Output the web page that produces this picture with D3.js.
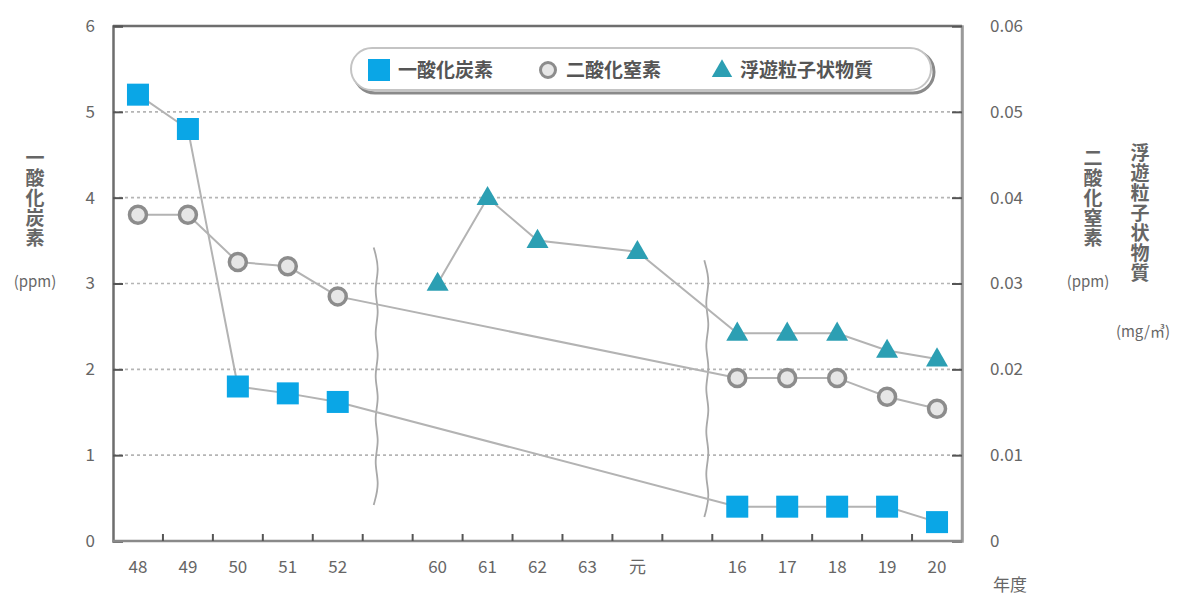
<!DOCTYPE html>
<html><head><meta charset="utf-8">
<script src="https://cdn.jsdelivr.net/npm/d3@7/dist/d3.min.js"></script>
<style>
body{margin:0;background:#fff;}
text{font-family:"Noto Sans CJK JP","Noto Sans",sans-serif;}
.vt{writing-mode:vertical-rl;text-orientation:upright;}
</style></head>
<body><svg id="c" width="1181" height="597"></svg>
<script>
// ---- data ----
const categories = ["48","49","50","51","52","gap1","60","61","62","63","元","gap2","16","17","18","19","20"];
const tickLabels = ["48","49","50","51","52","","60","61","62","63","元","","16","17","18","19","20"];
const coYears = ["48","49","50","51","52","16","17","18","19","20"];
const coValues = [5.2,4.8,1.8,1.72,1.62,0.4,0.4,0.4,0.4,0.22];           // ppm (left)
const no2Years = ["48","49","50","51","52","16","17","18","19","20"];
const no2Values = [0.038,0.038,0.0325,0.032,0.0285,0.019,0.019,0.019,0.0168,0.0154]; // ppm (right)
const spmYears = ["60","61","62","元","16","17","18","19","20"];
const spmValues = [0.030,0.040,0.035,0.0337,0.0242,0.0242,0.0242,0.0222,0.0212]; // mg/m3 (right)
const leftTicks = [0,1,2,3,4,5,6];
const rightTicks = [0,0.01,0.02,0.03,0.04,0.05,0.06];
const rightTickLabels = ["0","0.01","0.02","0.03","0.04","0.05","0.06"];
const legendNames = ["一酸化炭素","二酸化窒素","浮遊粒子状物質"];

// ---- layout ----
const svg = d3.select("#c");
const L = 113, R = 962, T = 26, B = 541;
const x = d3.scaleBand().domain(categories).range([L, R]).padding(0);
const yL = d3.scaleLinear().domain([0,6]).range([B,T]);
const yR = d3.scaleLinear().domain([0,0.06]).range([B,T]);
const cx = c => x(c) + x.bandwidth()/2;
const bw = x.bandwidth();
const txtCol = "#666";

// grid lines
svg.append("g").selectAll("line").data(leftTicks.filter(d=>d>0&&d<6)).join("line")
  .attr("x1",L).attr("x2",R).attr("y1",d=>yL(d)).attr("y2",d=>yL(d))
  .attr("stroke","#b5b5b5").attr("stroke-width",1.6).attr("stroke-dasharray","3,3");

// frame
svg.append("line").attr("x1",L).attr("x2",R).attr("y1",T).attr("y2",T).attr("stroke","#6e6e6e").attr("stroke-width",2.5);
svg.append("line").attr("x1",R).attr("x2",R).attr("y1",T).attr("y2",B).attr("stroke","#9a9a9a").attr("stroke-width",2.5);

// left axis
const gL = svg.append("g").attr("transform",`translate(${L},0)`)
  .call(d3.axisRight(yL).tickValues(leftTicks).tickSize(10).tickFormat(""));
gL.select(".domain").attr("stroke","#6e6e6e").attr("stroke-width",2.5);
gL.selectAll(".tick line").attr("stroke","#555").attr("stroke-width",2);
svg.append("g").selectAll("text").data(leftTicks).join("text")
  .attr("x",95).attr("y",d=>yL(d)).attr("dy","0.35em").attr("text-anchor","end")
  .attr("font-size",17).attr("fill",txtCol).text(d=>d);

// right axis
const gR = svg.append("g").attr("transform",`translate(${R},0)`)
  .call(d3.axisLeft(yR).tickValues(rightTicks).tickSize(10).tickFormat(""));
gR.select(".domain").attr("stroke","#9a9a9a").attr("stroke-width",2.5);
gR.selectAll(".tick line").attr("stroke","#555").attr("stroke-width",2);
svg.append("g").selectAll("text").data(rightTicks).join("text")
  .attr("x",990).attr("y",d=>yR(d)).attr("dy","0.35em").attr("text-anchor","start")
  .attr("font-size",17).attr("fill",txtCol).text((d,i)=>rightTickLabels[i]);

// bottom axis: ticks at boundaries between categories
const boundaries = categories.slice(1).map(c=>x(c));
svg.append("line").attr("x1",L).attr("x2",R).attr("y1",B).attr("y2",B).attr("stroke","#8a8a8a").attr("stroke-width",2.5);
svg.append("g").selectAll("line").data(boundaries).join("line")
  .attr("x1",d=>d).attr("x2",d=>d).attr("y1",B).attr("y2",B-7).attr("stroke","#555").attr("stroke-width",2);
svg.append("g").selectAll("text").data(categories).join("text")
  .attr("x",d=>cx(d)).attr("y",573).attr("text-anchor","middle")
  .attr("font-size",17).attr("fill",txtCol).text((d,i)=>tickLabels[i]);
svg.append("text").attr("x",993).attr("y",591).attr("font-size",17).attr("fill",txtCol).text("年度");

// axis titles (vertical)
function vtitle(str, xx, y0){
  svg.append("text").attr("class","vt").attr("x",xx).attr("y",y0)
    .attr("font-size",19).attr("font-weight","bold").attr("fill","#666")
    .attr("letter-spacing",1).text(str);
}
vtitle("一酸化炭素", 35, 148);
svg.append("text").attr("x",35).attr("y",287).attr("text-anchor","middle").attr("font-size",15).attr("fill",txtCol).text("(ppm)");
vtitle("二酸化窒素", 1093, 148);
svg.append("text").attr("x",1088).attr("y",287).attr("text-anchor","middle").attr("font-size",15).attr("fill",txtCol).text("(ppm)");
vtitle("浮遊粒子状物質", 1140, 143);
svg.append("text").attr("x",1143).attr("y",337).attr("text-anchor","middle").attr("font-size",15).attr("fill",txtCol).text("(mg/㎥)");

// break marks (wavy lines)
function wavy(xx, v0, v1){
  const y0 = yL(v0), y1 = yL(v1);
  const n = 12, pts = [];
  for(let i=0;i<=n;i++){ pts.push([xx + (i%2===0? -3: 3), y0 + (y1-y0)*i/n]); }
  svg.append("path").attr("d", d3.line().curve(d3.curveBasis)(pts))
    .attr("fill","none").attr("stroke","#a8a8a8").attr("stroke-width",1.8);
}
wavy(x("gap1")+bw*0.28, 3.42, 0.42);
wavy(x("gap2")+bw*0.9, 3.27, 0.28);

// lines
const line = d3.line();
function series(years, vals, ys){ return years.map((c,i)=>[cx(c), ys(vals[i])]); }
const coPts = series(coYears, coValues, yL);
const no2Pts = series(no2Years, no2Values, yR);
const spmPts = series(spmYears, spmValues, yR);
[coPts,no2Pts,spmPts].forEach(p=>{
  svg.append("path").attr("d",line(p)).attr("fill","none").attr("stroke","#b3b3b3").attr("stroke-width",2);
});

// markers
const blue = "#0aa6e6", teal = "#2c9fb3";
svg.append("g").selectAll("rect").data(coPts).join("rect")
  .attr("x",d=>d[0]-11).attr("y",d=>d[1]-11).attr("width",22).attr("height",22).attr("fill",blue);
svg.append("g").selectAll("circle").data(no2Pts).join("circle")
  .attr("cx",d=>d[0]).attr("cy",d=>d[1]).attr("r",8.5)
  .attr("fill","#e6e6e6").attr("stroke","#8c8c8c").attr("stroke-width",3.5);
const tri = d3.symbol().type(d3.symbolTriangle).size(210);
svg.append("g").selectAll("path").data(spmPts).join("path")
  .attr("transform",d=>`translate(${d[0]},${d[1]+1})`).attr("d",tri).attr("fill",teal);

// legend
const lg = svg.append("g");
lg.append("rect").attr("x",354).attr("y",51).attr("width",580).attr("height",42).attr("rx",21)
  .attr("fill","none").attr("stroke","#8a8a8a").attr("stroke-width",3);
lg.append("rect").attr("x",351).attr("y",48).attr("width",580).attr("height",42).attr("rx",21)
  .attr("fill","#fff").attr("stroke","#c4c4c4").attr("stroke-width",2);
lg.append("rect").attr("x",368).attr("y",59).attr("width",22).attr("height",22).attr("fill",blue);
lg.append("circle").attr("cx",548).attr("cy",70).attr("r",7.5).attr("fill","#e6e6e6").attr("stroke","#8c8c8c").attr("stroke-width",3);
lg.append("path").attr("transform","translate(722,71)").attr("d",d3.symbol().type(d3.symbolTriangle).size(180)).attr("fill",teal);
const lx = [398,566,740];
lg.selectAll("text.lt").data(legendNames).join("text").attr("class","lt")
  .attr("x",(d,i)=>lx[i]).attr("y",70).attr("dy","0.35em")
  .attr("font-size",19).attr("font-weight","bold").attr("fill","#555").text(d=>d);
</script></body></html>
